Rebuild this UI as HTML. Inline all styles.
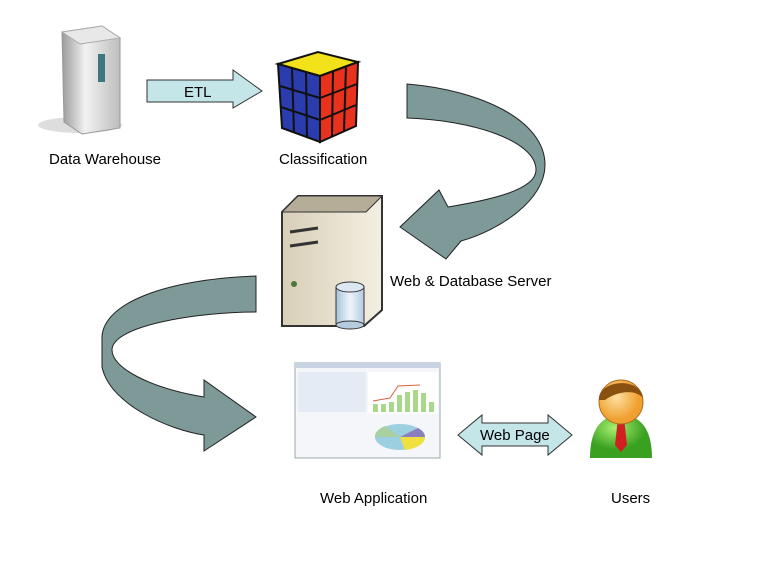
<!DOCTYPE html>
<html><head><style>
body{margin:0;background:#fff;width:768px;height:576px;overflow:hidden;font-family:"Liberation Sans",sans-serif;}
.t{position:absolute;font-size:15px;color:#000;}
</style></head><body>
<svg width="768" height="576" style="position:absolute;left:0;top:0">
<defs>
<linearGradient id="g1" x1="0" x2="1"><stop offset="0" stop-color="#9a9a9a"/><stop offset=".4" stop-color="#f2f2f2"/><stop offset="1" stop-color="#bdbdbd"/></linearGradient>
<linearGradient id="g2" x1="0" x2="1"><stop offset="0" stop-color="#d8cfb8"/><stop offset="1" stop-color="#f3efe2"/></linearGradient>
<linearGradient id="g3" x1="0" x2="1"><stop offset="0" stop-color="#a8c4da"/><stop offset=".5" stop-color="#eef4fa"/><stop offset="1" stop-color="#b4cbe0"/></linearGradient>
<radialGradient id="gf" cx=".4" cy=".4"><stop offset="0" stop-color="#fde0a0"/><stop offset="1" stop-color="#f0a030"/></radialGradient>
<radialGradient id="gb" cx=".4" cy=".3"><stop offset="0" stop-color="#a8f070"/><stop offset="1" stop-color="#3aa020"/></radialGradient>
</defs>
<ellipse cx="80" cy="125" rx="42" ry="8" fill="#ddd"/>
<polygon points="62,32 102,26 120,38 120,128 82,134 64,122" fill="url(#g1)" stroke="#999"/>
<polygon points="62,32 102,26 120,38 80,44" fill="#e8e8e8" stroke="#aaa"/>
<rect x="98" y="54" width="7" height="28" fill="#3e7680"/>
<polygon points="147,80 233,80 233,70 262,91 233,108 233,102 147,102" fill="#c5e6e9" stroke="#333"/>
<text x="184" y="97" font-size="15" font-family="Liberation Sans">ETL</text>
<polygon points="278,64 318,52 358,62 320,76" fill="#f2e21a" stroke="#111" stroke-width="2"/>
<polygon points="278,64 320,76 320,142 282,128" fill="#2a3cae" stroke="#111" stroke-width="2"/>
<polygon points="320,76 358,62 356,126 320,142" fill="#e8321e" stroke="#111" stroke-width="2"/>
<g stroke="#111" stroke-width="2"><line x1="292" y1="68" x2="294" y2="133"/><line x1="306" y1="72" x2="307" y2="138"/><line x1="280" y1="86" x2="320" y2="98"/><line x1="281" y1="107" x2="320" y2="120"/><line x1="333" y1="71" x2="332" y2="137"/><line x1="346" y1="66" x2="344" y2="131"/><line x1="320" y1="98" x2="357" y2="84"/><line x1="320" y1="120" x2="356" y2="105"/></g>
<path d="M407,84 C480,90 545,120 545,165 C545,200 500,230 461,241 L446,259 L400,227 L439,190 L448,207 C490,200 536,190 536,170 C536,140 470,120 407,118 Z" fill="#7d9a99" stroke="#222"/>
<polygon points="282,212 298,196 382,196 382,310 364,326 282,326" fill="url(#g2)" stroke="#333" stroke-width="2"/>
<polygon points="282,212 298,196 382,196 366,212" fill="#b5ad98" stroke="#333"/>
<line x1="290" y1="232" x2="318" y2="228" stroke="#333" stroke-width="3"/>
<line x1="290" y1="246" x2="318" y2="242" stroke="#333" stroke-width="3"/>
<circle cx="294" cy="284" r="3" fill="#4a7a3a"/>
<rect x="336" y="287" width="28" height="38" fill="url(#g3)" stroke="#333"/>
<ellipse cx="350" cy="287" rx="14" ry="5" fill="#dbe8f2" stroke="#333"/>
<ellipse cx="350" cy="325" rx="14" ry="4" fill="#b4cbe0" stroke="#333"/>
<path d="M256,276 C160,280 100,305 102,340 L102,367 C110,405 170,430 204,435 L204,451 L256,417 L204,380 L204,397 C150,388 112,368 112,350 C112,325 200,312 256,312 Z" fill="#7d9a99" stroke="#222"/>
<rect x="295" y="363" width="145" height="95" fill="#f4f6f9" stroke="#9aa"/>
<rect x="295" y="363" width="145" height="5" fill="#c8d4e4"/>
<rect x="298" y="372" width="68" height="40" fill="#e4ebf4"/>
<rect x="368" y="372" width="70" height="42" fill="#fff"/>
<g fill="#a8d88a"><rect x="373" y="404" width="5" height="8"/><rect x="381" y="404" width="5" height="8"/><rect x="389" y="402" width="5" height="10"/><rect x="397" y="395" width="5" height="17"/><rect x="405" y="392" width="5" height="20"/><rect x="413" y="390" width="5" height="22"/><rect x="421" y="393" width="5" height="19"/><rect x="429" y="402" width="5" height="10"/></g>
<polyline points="373,401 390,398 398,386 420,385" fill="none" stroke="#e06040"/>
<ellipse cx="400" cy="437" rx="25" ry="13" fill="#9ccfe0"/>
<path d="M400,437 L425,437 A25,13 0 0 1 405,450 Z" fill="#f0e040"/>
<path d="M400,437 L375,437 A25,13 0 0 1 385,426 Z" fill="#a8d0a0"/>
<path d="M400,437 L425,437 A25,13 0 0 0 418,428 Z" fill="#8a80c0"/>
<polygon points="458,435 482,415 482,423 548,423 548,415 572,435 548,455 548,446 482,446 482,455" fill="#c5e6e9" stroke="#333"/>
<text x="480" y="440" font-size="15" font-family="Liberation Sans">Web Page</text>
<path d="M590,458 C590,425 605,415 621,415 C637,415 652,425 652,458 Z" fill="url(#gb)"/>
<polygon points="618,418 624,418 627,445 621,452 615,445" fill="#d02020"/>
<circle cx="621" cy="402" r="22" fill="url(#gf)" stroke="#b07020"/>
<path d="M599,400 C598,380 640,376 643,398 C635,388 615,392 605,400 Z" fill="#8a5010"/>
</svg>
<div class="t" style="left:49px;top:151px">Data Warehouse</div>
<div class="t" style="left:279px;top:151px">Classification</div>
<div class="t" style="left:390px;top:273px">Web &amp; Database Server</div>
<div class="t" style="left:320px;top:490px">Web Application</div>
<div class="t" style="left:611px;top:490px">Users</div>
</body></html>
